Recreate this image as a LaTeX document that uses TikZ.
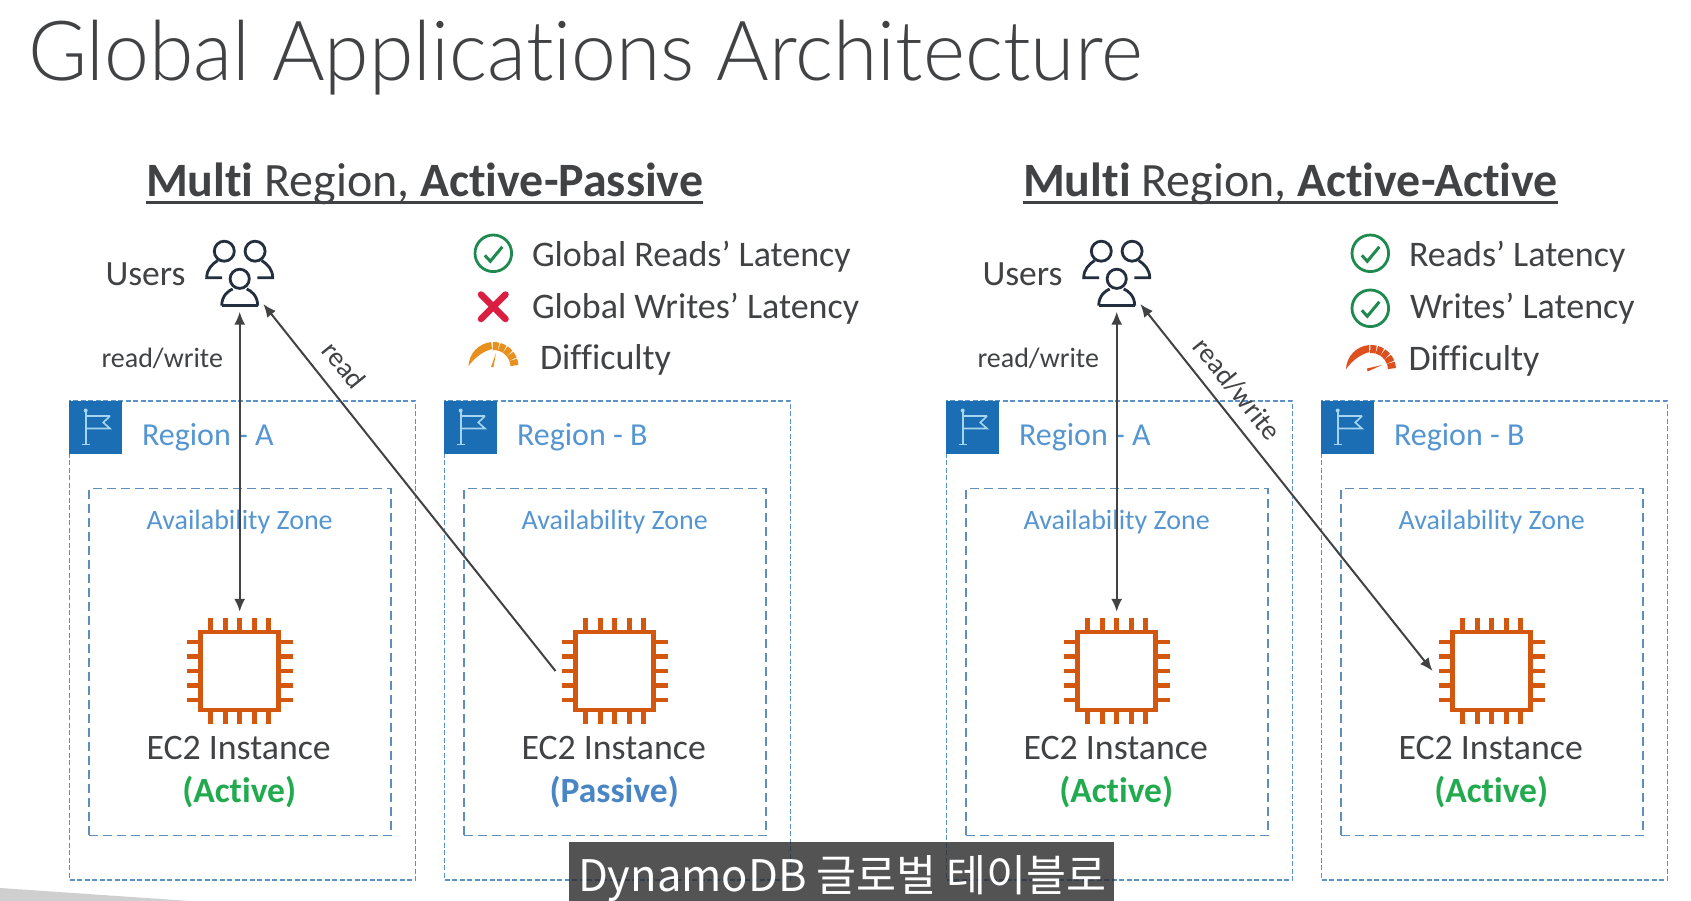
\documentclass[tikz,border=0pt]{standalone}
\usepackage{fontspec}
\setmainfont{Carlito}[Ligatures=CommonOff]
\newfontfamily\titlefont{Lato}[UprightFont=* Light, Ligatures=CommonOff]
\newfontfamily\subfont{Noto Sans CJK KR}
\usetikzlibrary{arrows.meta, positioning}
\definecolor{inkgray}{HTML}{404244}
\definecolor{navyicon}{HTML}{232F3E}
\definecolor{regionblue}{HTML}{5B93C9}
\definecolor{zoneblue}{HTML}{5E8FBC}
\definecolor{labelblue}{HTML}{5596D2}
\definecolor{flagblue}{HTML}{1B6EB3}
\definecolor{flagline}{HTML}{A5D5F0}
\definecolor{chiporange}{HTML}{D4570F}
\definecolor{okgreen}{HTML}{1F8A50}
\definecolor{activegreen}{HTML}{22AA4F}
\definecolor{passiveblue}{HTML}{4A86C5}
\definecolor{crossred}{HTML}{D91E42}
\definecolor{gaugeamber}{HTML}{E8901E}
\definecolor{gaugered}{HTML}{DE4F1E}
\tikzset{
txt/.style={inner sep=0pt, outer sep=0pt, anchor=base west, text=inkgray},
heading/.style={txt, font=\fontsize{47.9}{47.9}\selectfont},
itemtxt/.style={txt, font=\fontsize{36}{36}\selectfont},
usertxt/.style={txt, font=\fontsize{35.5}{35.5}\selectfont},
smalltxt/.style={txt, font=\fontsize{28}{28}\selectfont},
regiontxt/.style={txt, text=labelblue, font=\fontsize{32}{32}\selectfont},
zonetxt/.style={txt, anchor=base, text=labelblue, font=\fontsize{28}{28}\selectfont},
ec2txt/.style={txt, anchor=base, font=\fontsize{35.8}{35.8}\selectfont},
statetxt/.style={txt, anchor=base, font=\fontsize{35.5}{35.5}\selectfont\bfseries},
regionbox/.style={draw=regionblue, line width=1.8pt, dash pattern=on 5pt off 2.5pt, minimum width=346pt, minimum height=479pt, inner sep=0pt},
zonebox/.style={draw=zoneblue, line width=1.8pt, dash pattern=on 9pt off 5pt, minimum width=302pt, minimum height=347pt, inner sep=0pt},
chipnode/.style={minimum size=118pt, inner sep=0pt},
usersnode/.style={circle, minimum size=80pt, inner sep=0pt},
link/.style={draw=inkgray, line width=2pt},
}
% one region with its zone and instance, #1 name, #2 left edge, #3 letter
\newcommand{\regionpart}[5]{
  \node[regionbox] (reg#1) at (#2+173.5,640.7) {};
  \fill[flagblue] (#2,401) rectangle (#2+53,454);
  \begin{scope}[shift={(#2,401)}, draw=flagline, line width=1.6pt]
    \draw (16.7,10) -- (16.7,43.5) (12.7,43.5) -- (20.7,43.5);
    \draw (41,15) -- (34.3,21.5) -- (41,27.5) -- (16.7,27.5) (16.7,15) -- (41,15);
    \fill[flagline] (16.7,9.5) circle (2);
  \end{scope}
  \node[regiontxt] (lab#1) at (#2+73,445) {Region - #3};
  \node[zonebox] (zone#1) at (#2+170.7,662) {};
  \node[zonetxt] at (#2+170.7,529) {Availability Zone};
  \node[chipnode] (cpu#1) at (#2+170.7,671) {};
  \begin{scope}[shift={(cpu#1.center)}, draw=chiporange, line width=4.6pt]
    \draw[fill=white] (-39,-39) rectangle (39,39);
    \foreach \d in {-29,-14.5,0,14.5,29} {
      \draw (\d,-39) -- (\d,-53) (\d,39) -- (\d,53);
      \draw (-39,\d) -- (-53,\d) (39,\d) -- (53,\d);
    }
  \end{scope}
  \node[ec2txt] at (#2+169.7,759) {EC2 Instance};
  \node[statetxt, text=#5] at (#2+170.2,802) {(#4)};
}
% three persons
\newcommand{\usersicon}[1]{
  \begin{scope}[shift={(#1)}, draw=navyicon, line width=2.8pt]
    \draw (-15.4,-20.3) circle (10) (15.4,-20.3) circle (10) (0,7.3) circle (9.6);
    \draw (-18,34.2) .. controls (-18,24) and (-11,19) .. (-7,17.5);
    \draw (18,34.2) .. controls (18,24) and (11,19) .. (7,17.5);
    \draw (-18,34.2) -- (18,34.2);
    \draw (-17.7,6.3) -- (-33,6.3) .. controls (-33,-2) and (-28,-7) .. (-22,-11);
    \draw (17.7,6.3) -- (33,6.3) .. controls (33,-2) and (28,-7) .. (22,-11);
  \end{scope}
}
\newcommand{\okicon}[1]{
  \begin{scope}[shift={(#1)}, draw=okgreen]
    \draw[line width=2.8pt] (0,0) circle (18.3);
    \draw[line width=3pt] (-8.5,2) -- (-3,8) -- (9,-6.5);
  \end{scope}
}
% gauge, #2 colour, #3 needle path
\newcommand{\gaugeicon}[3]{
  \begin{scope}[shift={(#1)}, y=1pt, draw=#2, fill=#2]
    \fill (178:25) arc (178:95:25) -- (95:18) .. controls (120:18.5) and (150:21) .. (178:25) -- cycle;
    \foreach \a in {92,74,56,38,20} {
      \draw[line width=8pt] (\a:21) arc (\a:\a-16:21);
    }
    \fill #3;
  \end{scope}
}

\begin{document}
\begin{tikzpicture}[x=1pt,y=-1pt]
        \useasboundingbox (0,0) rectangle (1691,901);
        \fill[white] (0,0) rectangle (1691,901);
        \fill[black!19] (0,888) -- (190,901) -- (0,901) -- cycle;
        % title
        \node[txt, font=\fontsize{83}{83}\titlefont, xscale=.97, anchor=base west] (title) at (28,81) {Global Applications Architecture};
        % left hand
        \node[heading] (headL) at (146,197) {\textbf{Multi} Region, \textbf{Active-Passive}};
        \draw[inkgray, line width=3.4pt] ([yshift=-5.5pt]headL.base west) -- ([yshift=-5.5pt]headL.base east);
        \node[usertxt] (usrL) at (105.5,285) {Users};
        \node[usersnode] (usersL) at (239.7,271.5) {};
        \usersicon{usersL.center}
        \node[smalltxt] (rwL) at (101.5,367) {read/write};
        \okicon{493.3,253.3}
        \draw[crossred, line width=6.5pt, line cap=round] (481,294.5) -- (505.5,319) (505.5,294.5) -- (481,319);
        \gaugeicon{493.5,367}{gaugeamber}{(-2.5,0) -- (0,0) -- (2.5,14) -- cycle}
        \node[itemtxt] (readsL) at (532,266) {Global Reads’ Latency};
        \node[itemtxt] (writesL) at (532,318) {Global Writes’ Latency};
        \node[itemtxt] (diffL) at (540,369) {Difficulty};
        \regionpart{LA}{69}{A}{Active}{activegreen}
        \regionpart{LB}{444}{B}{Passive}{passiveblue}
        \draw[link, {Latex[length=13pt,width=11pt]}-{Latex[length=13pt,width=11pt]}] (usersL.south) -- (cpuLA.north);
        \draw[link, -{Latex[length=13pt,width=11pt]}] (cpuLB.west) -- (usersL.-54);
        \node[smalltxt, anchor=center, rotate=-51] (rdL) at (344,365) {read};
        % right hand
        \node[heading] (headR) at (1023,197) {\textbf{Multi} Region, \textbf{Active-Active}};
        \draw[inkgray, line width=3.4pt] ([yshift=-5.5pt]headR.base west) -- ([yshift=-5.5pt]headR.base east);
        \node[usertxt] (usrR) at (982.5,285) {Users};
        \node[usersnode] (usersR) at (1116.7,271.5) {};
        \usersicon{usersR.center}
        \node[smalltxt] (rwR) at (977.5,367) {read/write};
        \okicon{1370.3,253.3}
        \okicon{1370.3,308.3}
        \gaugeicon{1371,370}{gaugered}{(-4,1.5) -- (-3.4,-1.5) -- (11,5) -- cycle}
        \node[itemtxt] (readsR) at (1409,266) {Reads’ Latency};
        \node[itemtxt] (writesR) at (1410,318) {Writes’ Latency};
        \node[itemtxt] (diffR) at (1408.5,370) {Difficulty};
        \regionpart{RA}{946}{A}{Active}{activegreen}
        \regionpart{RB}{1321}{B}{Active}{activegreen}
        \draw[link, {Latex[length=13pt,width=11pt]}-{Latex[length=13pt,width=11pt]}] (usersR.south) -- (cpuRA.north);
        \draw[link, {Latex[length=13pt,width=11pt]}-{Latex[length=13pt,width=11pt]}] (cpuRB.west) -- (usersR.-54);
        \node[smalltxt, anchor=center, rotate=-51] (rdR) at (1237,389) {read/write};
        % caption
        \fill[fill=black!84, fill opacity=.8] (569,842) rectangle (1114,901);
        \node[txt, text=white, font=\fontsize{43.5}{43.5}\subfont] (caption) at (578,891) {DynamoDB 글로벌 테이블로};
    \end{tikzpicture}
\end{document}
